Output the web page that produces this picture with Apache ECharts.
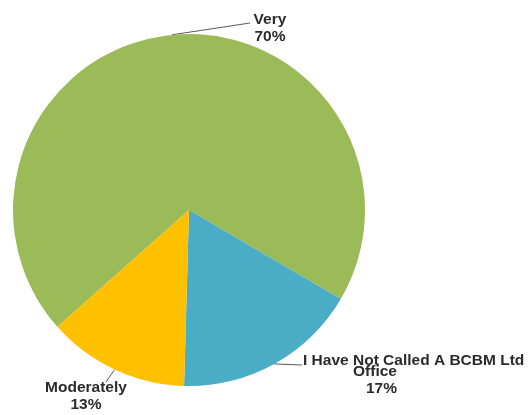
<!DOCTYPE html>
<html>
<head>
<meta charset="utf-8">
<script src="https://cdn.jsdelivr.net/npm/echarts@6/dist/echarts.min.js"></script>
<style>
  html, body { margin: 0; padding: 0; background: #ffffff; }
  #chart { width: 529px; height: 415px; }
</style>
</head>
<body>
<div id="chart"></div>
<script>
// Survey answers and their shares (percent)
const categories = ['Very', 'I Have Not Called A BCBM Ltd Office', 'Moderately'];
const shares = [70, 17, 13];
const sliceColors = ['#9BBB59', '#4BACC6', '#FFC000'];

// Where each callout sits (text anchor) and where its leader line ends
const callouts = [
  { x: 270, y: 11.5, align: 'center', lineEnd: [250, 23] },
  { x: 303, y: 354.5, align: 'left', lineEnd: [302, 365] },
  { x: 86, y: 379.5, align: 'center', lineEnd: [106, 382] }
];

const textColor = '#2b2b2b';
const font = 'Liberation Sans';

function labelText(p) {
  if (p.dataIndex === 1) {
    return '{l1|I Have Not Called A BCBM Ltd}\n{l2|Office}\n{l3|' + p.value + '%}';
  }
  return '{n|' + p.name + '}\n{n|' + p.value + '%}';
}

const chart = echarts.init(document.getElementById('chart'), null, { renderer: 'canvas' });

chart.setOption({
  backgroundColor: '#ffffff',
  animation: false,
  series: [{
    type: 'pie',
    center: [189, 210],
    radius: 176,
    clockwise: true,
    startAngle: 221.6,
    avoidLabelOverlap: false,
    itemStyle: { borderWidth: 0 },
    emphasis: { disabled: true },
    data: categories.map((name, i) => ({
      name: name,
      value: shares[i],
      itemStyle: { color: sliceColors[i] }
    })),
    label: {
      show: true,
      position: 'outside',
      formatter: labelText,
      color: textColor,
      fontFamily: font,
      fontWeight: 'bold',
      fontSize: 15.5,
      rich: {
        n: { fontFamily: font, fontWeight: 'bold', fontSize: 15.5, color: textColor, lineHeight: 17, align: 'center' },
        l1: { fontFamily: font, fontWeight: 'bold', fontSize: 15.5, color: textColor, lineHeight: 12 },
        l2: { fontFamily: font, fontWeight: 'bold', fontSize: 15.5, color: textColor, lineHeight: 10, padding: [0, 0, 0, 50] },
        l3: { fontFamily: font, fontWeight: 'bold', fontSize: 15.5, color: textColor, lineHeight: 25, padding: [0, 0, 0, 63] }
      }
    },
    labelLine: {
      show: true,
      length: 10,
      length2: 10,
      lineStyle: { color: '#595959', width: 1 }
    },
    // Leader lines start on the slice edge (from the pie's own layout) and end at the callout
    labelLayout: function (params) {
      const cfg = callouts[params.dataIndex];
      const start = params.labelLinePoints ? params.labelLinePoints[0] : cfg.lineEnd;
      return {
        x: cfg.x,
        y: cfg.y,
        align: cfg.align,
        verticalAlign: 'top',
        labelLinePoints: [start, cfg.lineEnd, cfg.lineEnd]
      };
    }
  }]
});
</script>
</body>
</html>
